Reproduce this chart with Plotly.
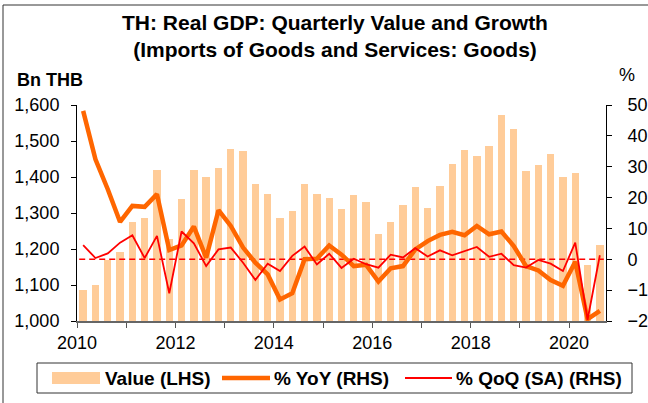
import plotly.graph_objects as go

# ---------------- data ----------------
years = list(range(2010, 2021))
year_labels = [str(y) if y % 2 == 0 else "" for y in years]
quarters = [f"{y}Q{q}" for y in range(2010, 2021) for q in range(1, 5)][:43]

value_bn_thb = [1087, 1099, 1170, 1193, 1275, 1287, 1419, 1227, 1340, 1420, 1399,
                1424, 1479, 1472, 1380, 1353, 1285, 1305, 1380, 1352, 1341, 1311,
                1350, 1330, 1243, 1274, 1322, 1373, 1315, 1374, 1437, 1476, 1458,
                1487, 1571, 1534, 1417, 1432, 1463, 1400, 1412, 1155, 1212]
yoy_pct = [48.1, 32.4, 22.7, 12.1, 17.3, 17.0, 21.1, 3.0, 4.5, 10.6, 0.5,
           15.9, 10.8, 3.8, -1.1, -4.9, -13.0, -11.0, 0.0, 0.2, 4.5, 1.5,
           -2.2, -1.8, -7.2, -2.9, -2.2, 3.2, 5.9, 7.9, 8.9, 7.8, 10.8,
           8.1, 9.0, 4.3, -2.2, -3.6, -6.7, -8.6, -0.8, -19.4, -16.7]
qoq_pct = [4.6, 0.4, 1.9, 5.4, 7.8, 0.4, 7.6, -11.0, 9.0, 5.2, -2.2,
           3.2, 3.8, -1.1, -6.7, -1.4, -3.8, 1.1, 4.1, -1.7, 1.8, -2.8,
           0.2, -1.6, -2.7, 1.5, 0.6, 3.6, 0.9, 2.9, 1.3, 2.7, 4.0,
           0.8, 1.8, -1.9, -2.7, -0.2, -1.4, -3.8, 5.4, -19.6, 1.3]

# quarter centre positions on a numeric year axis
xq = [int(q[:4]) + (int(q[-1]) - 1) / 4 + 0.125 for q in quarters]

# ---------------- layout helpers ----------------
W, H = 648, 403
L, R, T, B = 77, 42, 105, 82
PW, PH = W - L - R, H - T - B


def px(x):
    return (x - L) / PW


def py(y):
    return (H - B - y) / PH


FONT = "Liberation Sans, Arial, sans-serif"
BAR_C = "#FFCC99"
YOY_C = "#FF6600"
QOQ_C = "#FF0000"

fig = go.Figure()
fig.add_trace(go.Bar(x=xq, y=value_bn_thb, width=0.15, marker_color=BAR_C,
                     marker_line_width=0, yaxis="y", name="Value (LHS)"))
fig.add_trace(go.Scatter(x=[xq[0] - 0.08, xq[-1] + 0.08], y=[0, 0], yaxis="y2",
                         mode="lines", line=dict(color=QOQ_C, width=1.6, dash="6px,4px"),
                         hoverinfo="skip", name="zero"))
fig.add_trace(go.Scatter(x=xq, y=yoy_pct, yaxis="y2", mode="lines",
                         line=dict(color=YOY_C, width=4.5), name="% YoY (RHS)"))
fig.add_trace(go.Scatter(x=xq, y=qoq_pct, yaxis="y2", mode="lines",
                         line=dict(color=QOQ_C, width=1.8), name="% QoQ (SA) (RHS)"))

axis_font = dict(family=FONT, size=18, color="#000000")

fig.update_layout(
    width=W, height=H, autosize=False,
    margin=dict(l=L, r=R, t=T, b=B, autoexpand=False),
    paper_bgcolor="white", plot_bgcolor="white",
    showlegend=False,
    bargap=0,
    font=dict(family=FONT, color="#000000"),
    title=dict(
        text="<b>TH: Real GDP: Quarterly Value and Growth<br>(Imports of Goods and Services: Goods)</b>",
        x=335 / W, xanchor="center", xref="container",
        y=1 - 30 / H, yanchor="middle", yref="container",
        font=dict(family=FONT, size=21, color="#000000"),
    ),
    xaxis=dict(range=[2010, 2020.75], tickvals=years, ticktext=year_labels,
               ticks="outside", ticklen=5, tickcolor="#555555", tickwidth=1,
               showline=True, linecolor="#666666", linewidth=1.5, automargin=False,
               showgrid=False, zeroline=False, tickfont=axis_font),
    yaxis=dict(range=[1000, 1600], dtick=100, tickformat=",",
               ticks="outside", ticklen=5, tickcolor="#000000",
               showline=True, linecolor="#000000", linewidth=1, automargin=False,
               showgrid=False, zeroline=False, tickfont=axis_font,
               ticklabelstandoff=8),
    yaxis2=dict(range=[-20, 50], dtick=10, overlaying="y", side="right",
                ticks="outside", ticklen=5, tickcolor="#000000",
                showline=True, linecolor="#000000", linewidth=1, automargin=False,
                showgrid=False, zeroline=False, tickfont=axis_font,
                ticklabelstandoff=12),
)

shapes = []
annos = []

# outer frame (top and left edges)
shapes.append(dict(type="line", xref="paper", yref="paper",
                   x0=px(3), x1=px(W), y0=py(5), y1=py(5),
                   line=dict(color="#333333", width=1)))
shapes.append(dict(type="line", xref="paper", yref="paper",
                   x0=px(3), x1=px(3), y0=py(5), y1=py(H),
                   line=dict(color="#333333", width=1)))

# axis unit labels
annos.append(dict(text="<b>Bn THB</b>", xref="paper", yref="paper",
                  x=px(15), y=py(80), xanchor="left", yanchor="middle",
                  showarrow=False, font=dict(family=FONT, size=18)))
annos.append(dict(text="%", xref="paper", yref="paper",
                  x=px(627), y=py(75), xanchor="center", yanchor="middle",
                  showarrow=False, font=dict(family=FONT, size=18)))

# manual legend
LY = 378
shapes.append(dict(type="rect", xref="paper", yref="paper",
                   x0=px(37), x1=px(632), y0=py(363), y1=py(393),
                   line=dict(color="#333333", width=1), fillcolor="white"))
shapes.append(dict(type="rect", xref="paper", yref="paper",
                   x0=px(52), x1=px(100), y0=py(372), y1=py(384),
                   line=dict(width=0), fillcolor=BAR_C))
shapes.append(dict(type="line", xref="paper", yref="paper",
                   x0=px(222), x1=px(270), y0=py(LY), y1=py(LY),
                   line=dict(color=YOY_C, width=4.5)))
shapes.append(dict(type="line", xref="paper", yref="paper",
                   x0=px(405), x1=px(452), y0=py(LY), y1=py(LY),
                   line=dict(color=QOQ_C, width=1.8)))
for txt, xx in [("Value (LHS)", 103), ("% YoY (RHS)", 272), ("% QoQ (SA) (RHS)", 454)]:
    annos.append(dict(text=f"<b>{txt}</b>", xref="paper", yref="paper",
                      x=px(xx), y=py(LY), xanchor="left", yanchor="middle",
                      showarrow=False, font=dict(family=FONT, size=19)))

fig.update_layout(shapes=shapes, annotations=annos)

fig.write_html("out.html", config={"displayModeBar": False},
               post_script="document.body.style.margin='0';document.body.style.overflow='hidden';")
